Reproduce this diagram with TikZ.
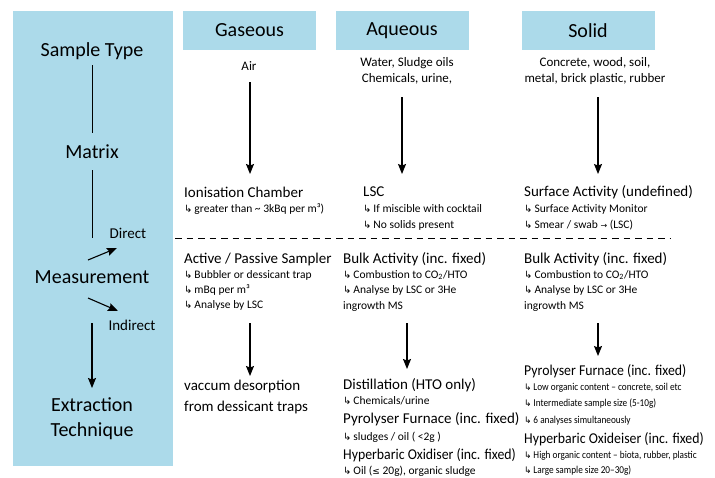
\documentclass[tikz,border=0pt]{standalone}
\usepackage{fontspec}
\setmainfont{Carlito}
\newfontfamily\condf{Carlito}[FakeStretch=0.92,Ligatures=TeX]
\newfontfamily\tinyf{Carlito}[FakeStretch=0.88,Ligatures=TeX]
\newfontfamily\symf{DejaVu Sans}
\usetikzlibrary{arrows.meta}
\definecolor{panel}{RGB}{172,218,234}
\newcommand{\hk}{{\symf\fontsize{10}{10}\selectfont ↳}\,}
\newcommand{\hks}{{\symf\fontsize{9}{9}\selectfont ↳}\,}
\begin{document}
\begin{tikzpicture}[x=1pt,y=-1pt,
  big/.style={font=\fontsize{20}{22}\selectfont, anchor=base, inner sep=0},
  small/.style={font=\fontsize{15}{17}\selectfont, anchor=base, inner sep=0},
  head/.style={fill=panel, minimum width=133pt, minimum height=39pt, inner sep=0, font=\fontsize{20}{22}\selectfont},
  mat/.style={font=\fontsize{13}{15}\selectfont, anchor=base, inner sep=0},
  item/.style={font=\fontsize{15}{17}\selectfont, anchor=base west, inner sep=0},
  items/.style={font=\condf\fontsize{15}{17}\selectfont, anchor=base west, inner sep=0},
  subi/.style={font=\fontsize{11.5}{13}\selectfont, anchor=base west, inner sep=0},
  tinyi/.style={font=\tinyf\fontsize{10.5}{12}\selectfont, anchor=base west, inner sep=0},
  arr/.style={-{Stealth[length=10pt,width=8pt,inset=1.5pt]}, line width=1.1pt},
  ln/.style={line width=1pt}]
\useasboundingbox (0,0) rectangle (715,477);
% left panel
\fill[panel] (13,11) rectangle (173,466);
\node[big] (st) at (92,56) {Sample Type};
\node[big] (mx) at (92,158) {Matrix};
\node[small] (dir) at (128,238) {Direct};
\node[big] (ms) at (92,283) {Measurement};
\node[small] (ind) at (132,330) {Indirect};
\node[big] (ex) at (92,411) {Extraction};
\node[big] (te) at (92,436) {Technique};
\coordinate (l1a) at (92,65); \coordinate (l1b) at (92,133);
\coordinate (l2a) at (92,170); \coordinate (l2b) at (92,238);
\coordinate (da) at (88,260); \coordinate (db) at (117,248);
\coordinate (ia) at (88,298); \coordinate (ib) at (118,311);
\coordinate (ea) at (92,323); \coordinate (eb) at (92,388);
\draw[ln] (l1a) -- (l1b);
\draw[ln] (l2a) -- (l2b);
\draw[arr] (da) -- (db);
\draw[arr] (ia) -- (ib);
\draw[arr] (ea) -- (eb);
% headers
\node[head] (hg) at (249.5,30.5) {Gaseous};
\node[head] (ha) at (402,30.5) {Aqueous};
\node[head] (hs) at (588,30.5) {Solid};
\node[mat] (mg) at (249,70) {Air};
\node[mat] (ma1) at (407,66) {Water, Sludge oils};
\node[mat] (ma2) at (407,82) {Chemicals, urine,};
\node[mat] (ms1) at (595,66) {Concrete, wood, soil,};
\node[mat] (ms2) at (595,82) {metal, brick plastic, rubber};
% upper arrows
\coordinate (g1a) at (250,82); \coordinate (g1b) at (250,174);
\coordinate (a1a) at (402,97); \coordinate (a1b) at (402,174);
\coordinate (s1a) at (598,97); \coordinate (s1b) at (598,174);
\draw[arr] (g1a) -- (g1b);
\draw[arr] (a1a) -- (a1b);
\draw[arr] (s1a) -- (s1b);
% direct
\node[item] (ic) at (184,197) {Ionisation Chamber};
\node[subi] (ic1) at (184,212) {\hk greater than \textasciitilde{} 3kBq per m³)};
\node[item] (lsc) at (363,196) {LSC};
\node[subi] (lsc1) at (363,212) {\hk If miscible with cocktail};
\node[subi] (lsc2) at (363,228) {\hk No solids present};
\node[item] (sa) at (524,196) {Surface Activity (undefined)};
\node[subi] (sa1) at (524,212) {\hk Surface Activity Monitor};
\node[subi] (sa2) at (524,228) {\hk Smear / swab {\symf\fontsize{8}{8}\selectfont →} (LSC)};
% dashed divider
\coordinate (dl) at (175,238); \coordinate (dr) at (670,238);
\draw[line width=0.9pt, dash pattern=on 6.5pt off 5pt] (dl) -- (dr);
% indirect
\node[item] (ap) at (184,263) {Active / Passive Sampler};
\node[subi] (ap1) at (184,278) {\hk Bubbler or dessicant trap};
\node[subi] (ap2) at (184,293) {\hk mBq per m³};
\node[subi] (ap3) at (184,308) {\hk Analyse by LSC};
\node[item] (ba) at (343,263) {Bulk Activity (inc. fixed)};
\node[subi] (ba1) at (343,278) {\hk Combustion to CO\textsubscript{2}/HTO};
\node[subi] (ba2) at (343,293) {\hk Analyse by LSC or 3He};
\node[subi] (ba3) at (343,309) {ingrowth MS};
\node[item] (bs) at (524,263) {Bulk Activity (inc. fixed)};
\node[subi] (bs1) at (524,278) {\hk Combustion to CO\textsubscript{2}/HTO};
\node[subi] (bs2) at (524,293) {\hk Analyse by LSC or 3He};
\node[subi] (bs3) at (524,309) {ingrowth MS};
% lower arrows
\coordinate (g2a) at (250,323); \coordinate (g2b) at (250,376);
\coordinate (a2a) at (407,323); \coordinate (a2b) at (407,369);
\coordinate (s2a) at (598,323); \coordinate (s2b) at (598,356);
\draw[arr] (g2a) -- (g2b);
\draw[arr] (a2a) -- (a2b);
\draw[arr] (s2a) -- (s2b);
% extraction
\node[item] (vd) at (184,390) {vaccum desorption};
\node[item] (vd2) at (184,411) {from dessicant traps};
\node[item] (di) at (343,389) {Distillation (HTO only)};
\node[subi] (di1) at (343,404) {\hk Chemicals/urine};
\node[item] (pf) at (343,423) {Pyrolyser Furnace (inc. fixed)};
\node[subi] (pf1) at (343,440) {\hk sludges / oil ( <2g )};
\node[items] (ho) at (343,459) {Hyperbaric Oxidiser (inc. fixed)};
\node[subi] (ho1) at (343,474) {\hk Oil ({\symf\fontsize{9}{9}\selectfont ≤} 20g), organic sludge};
\node[items] (pfs) at (524,375) {Pyrolyser Furnace (inc. fixed)};
\node[tinyi] (pfs1) at (524,390) {\hks Low organic content – concrete, soil etc};
\node[tinyi] (pfs2) at (524,406) {\hks Intermediate sample size (5-10g)};
\node[tinyi] (pfs3) at (524,423) {\hks 6 analyses simultaneously};
\node[items] (hos) at (524,443) {Hyperbaric Oxideiser (inc. fixed)};
\node[tinyi] (hos1) at (524,458) {\hks High organic content – biota, rubber, plastic};
\node[tinyi] (hos2) at (524,473) {\hks Large sample size 20–30g)};
\end{tikzpicture}
\end{document}
